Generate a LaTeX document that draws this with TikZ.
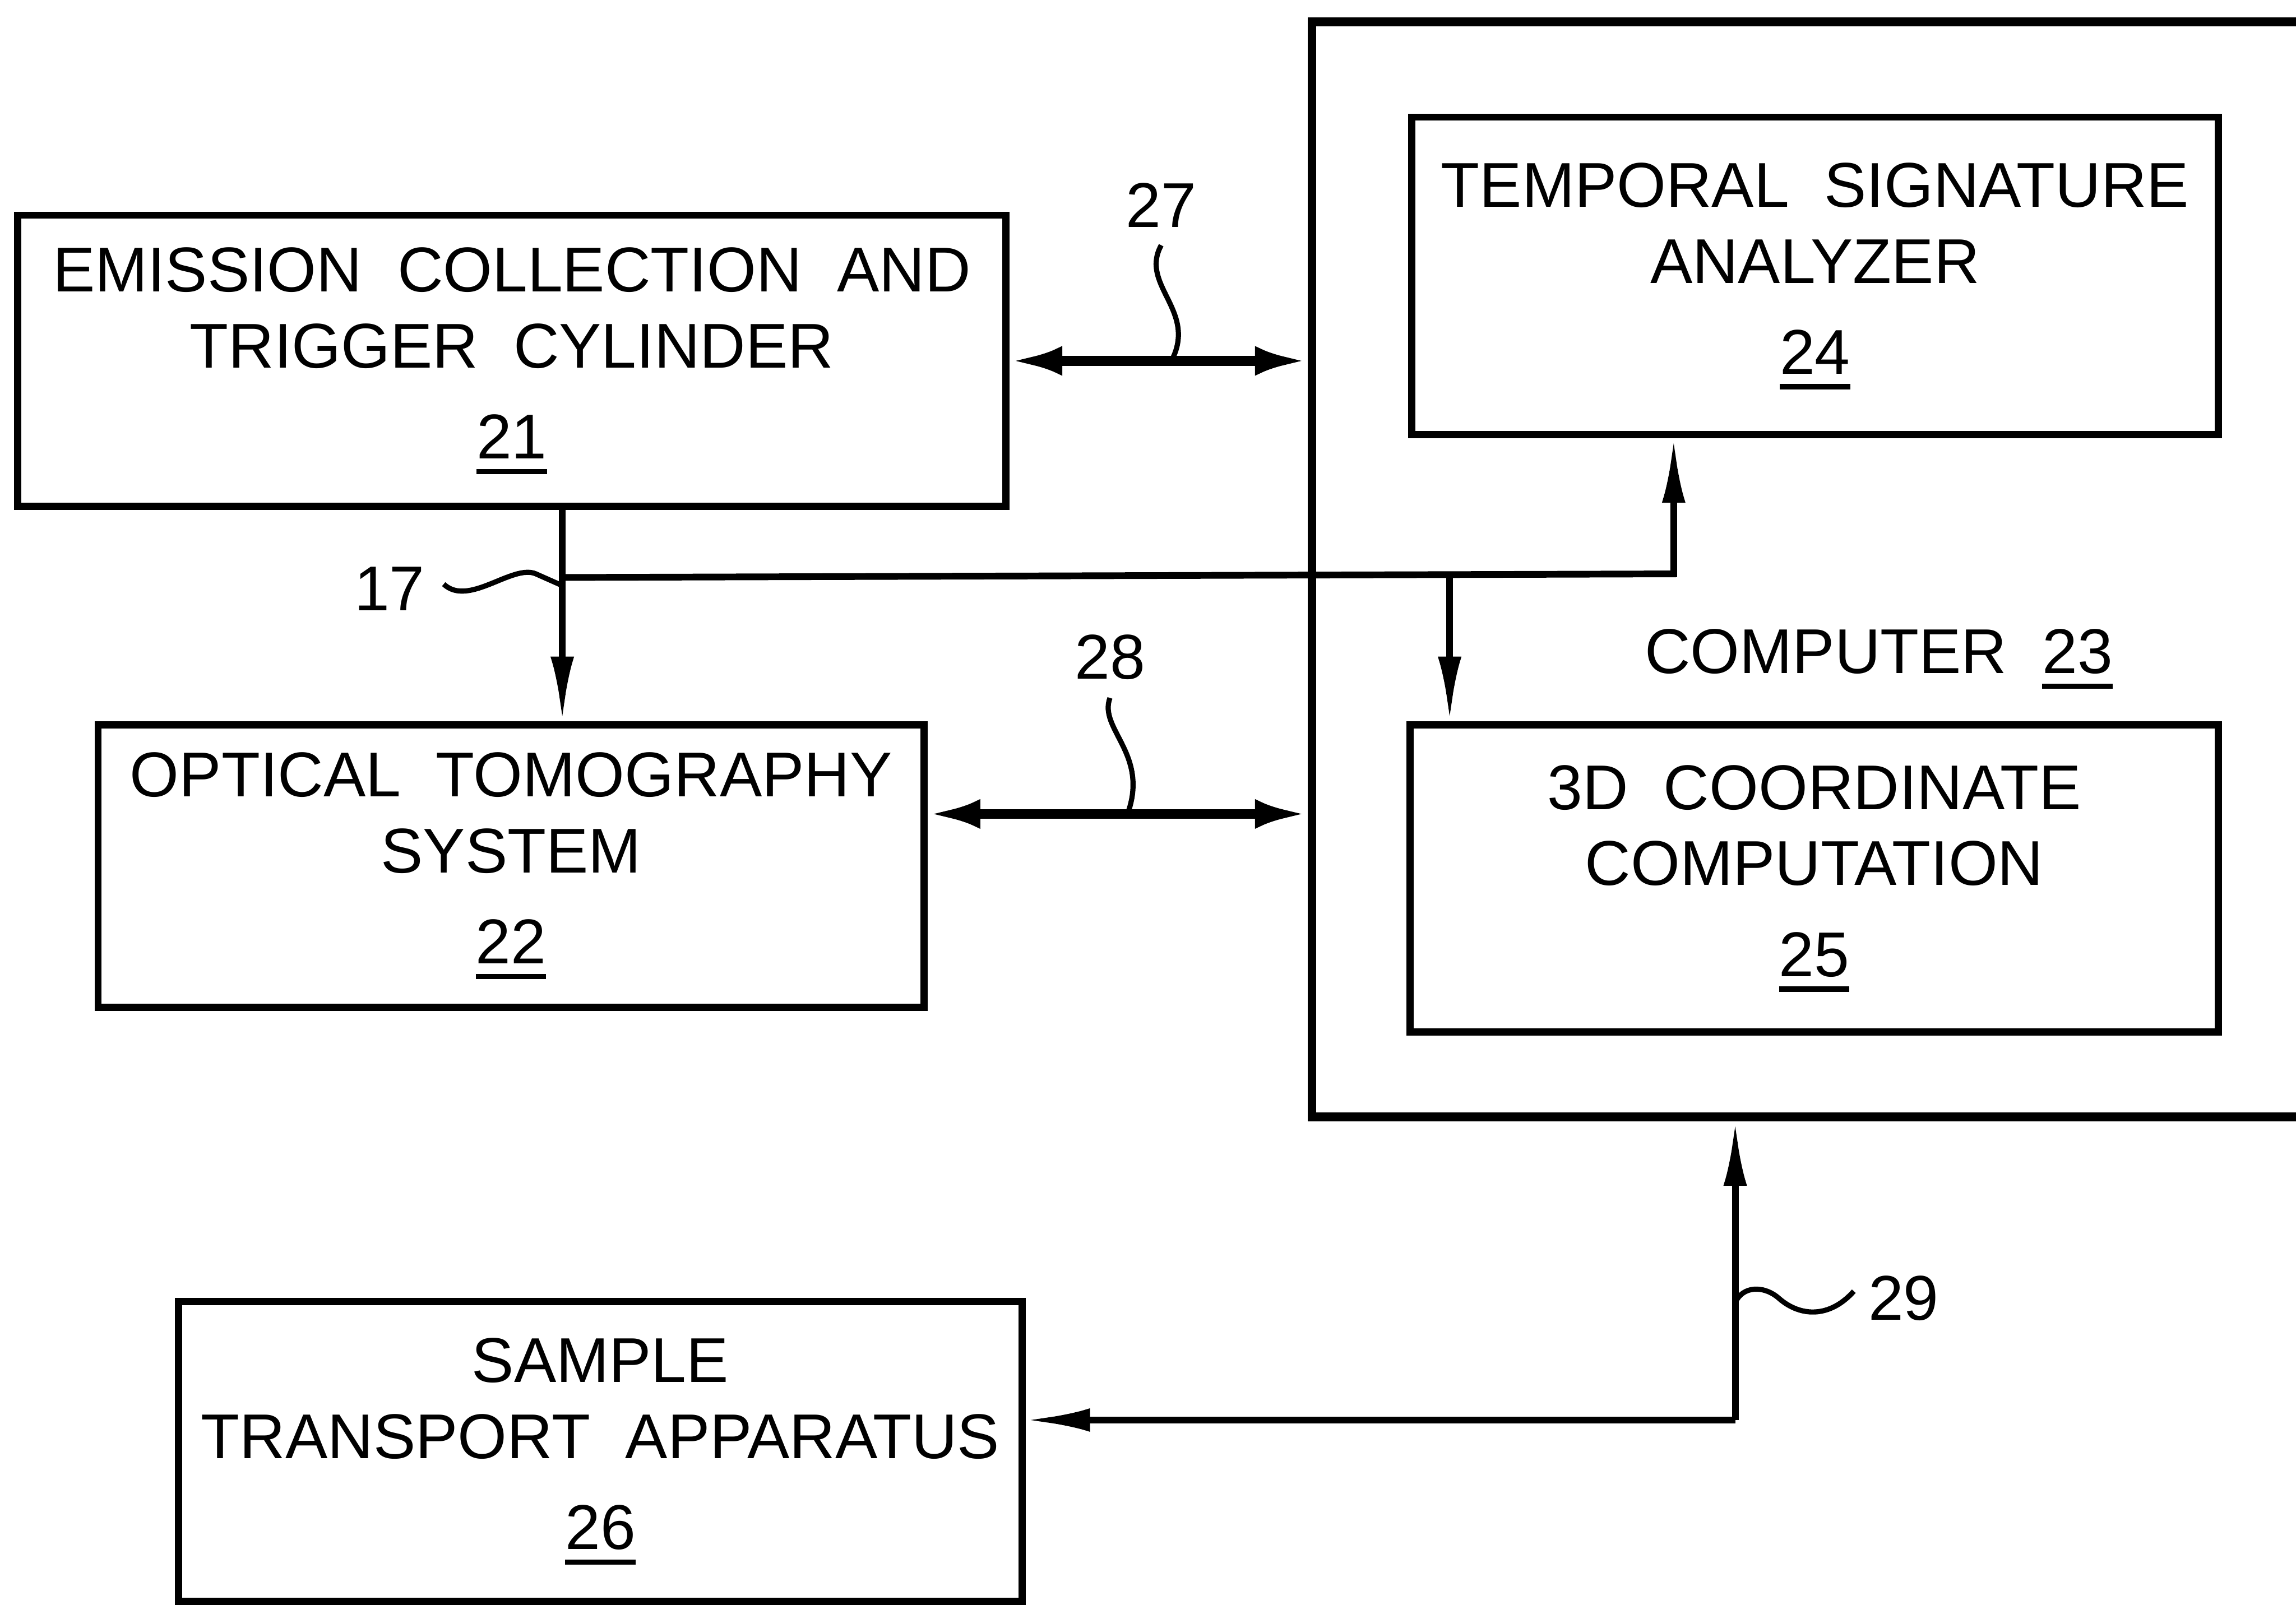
\documentclass[tikz,border=0pt]{standalone}
\usepackage{fontspec}
\setmainfont{Liberation Sans}
\usetikzlibrary{arrows.meta}
\newcommand{\boxfont}{\fontsize{12.3}{14.8}\selectfont}
\newcommand{\partnum}[1]{\setbox0=\hbox{#1}\leavevmode\rlap{\raisebox{-3pt}{\rule{\wd0}{1pt}}}\box0}
\tikzstyle{block} = [
    rectangle,
    draw=black,
    line width=1.4pt,
    inner sep=2pt,
    align=center,
    font=\boxfont
]
\tikzstyle{tag} = [font=\boxfont]
\tikzstyle{arrow} = [line width=1.3pt,-{Latex[length=0.44cm,width=0.16cm]}]
\tikzstyle{dblarrow} = [line width=1.9pt,{Latex[length=0.36cm,width=0.2cm]}-{Latex[length=0.36cm,width=0.2cm]}]
\tikzstyle{leader} = [line width=1pt]

\begin{document}
\begin{tikzpicture}

\useasboundingbox (0,0) rectangle (15.68,-10.96);

\node (comp) [block, line width=1.7pt, minimum width=7.54cm, minimum height=7.48cm] at (12.73,-3.89) {};

\node (emis) [block, minimum width=6.75cm, minimum height=1.99cm] at (3.495,-2.465)
{EMISSION~~COLLECTION~~AND\\TRIGGER~~CYLINDER\\[0.1cm]\partnum{21}};

\node (optic) [block, minimum width=5.64cm, minimum height=1.93cm] at (3.49,-5.915)
{OPTICAL~~TOMOGRAPHY\\SYSTEM\\[0.1cm]\partnum{22}};

\node (tsa) [block, minimum width=5.51cm, minimum height=2.17cm] at (12.395,-1.885)
{TEMPORAL~~SIGNATURE\\ANALYZER\\[0.1cm]\partnum{24}};

\node (coord) [block, minimum width=5.52cm, minimum height=2.10cm] at (12.39,-6.00)
{3D~~COORDINATE\\COMPUTATION\\[0.1cm]\partnum{25}};

\node (sample) [block, minimum width=5.76cm, minimum height=2.05cm] at (4.10,-9.915)
{SAMPLE\\TRANSPORT~~APPARATUS\\[0.1cm]\partnum{26}};

\node (complabel) [tag] at (12.83,-4.50) {COMPUTER~~\partnum{23}};

\node (n27) [tag] at (7.93,-1.40) {27};
\node (n28) [tag] at (7.58,-4.49) {28};
\node (n17) [tag] at (2.66,-4.02) {17};
\node (n29) [tag] at (13.00,-8.87) {29};

\coordinate (ot) at ([yshift=3.55mm]optic.east);
\coordinate (tap) at ([xshift=3.45mm]emis.south);
\coordinate (j17) at ([yshift=-4.6mm]tap);
\coordinate (up) at (11.43,-3.92);
\coordinate (dn) at (9.90,-3.92);
\coordinate (bend) at (11.85,-9.70);
\coordinate (j27) at (8.00,-2.465);
\coordinate (j28) at (7.70,-5.56);
\coordinate (j29) at (11.85,-8.90);
\coordinate (e17) at (3.03,-3.99);
\coordinate (e29) at (12.66,-8.82);

\draw [dblarrow] (emis.east) -- (emis.east -| comp.west);
\draw [dblarrow] (ot) -- (ot -| comp.west);

\draw [arrow] (tap) -- (tap |- optic.north);
\draw [arrow] (j17) -- (up) -- (up |- tsa.south);
\draw [arrow] (dn) -- (dn |- coord.north);

\draw [arrow] (bend) -- (bend -| sample.east);
\draw [arrow] (bend) -- (bend |- comp.south);

\draw [leader] (n27.south) .. controls (7.78,-1.95) and (8.18,-2.12) .. (j27);
\draw [leader] (n28.south) .. controls (7.50,-4.98) and (7.85,-5.15) .. (j28);
\draw [leader] (e17) .. controls (3.20,-4.15) and (3.50,-3.85) .. (3.66,-3.92) .. controls (3.75,-3.96) .. (3.84,-4.00);
\draw [leader] (j29) .. controls (11.90,-8.78) and (12.05,-8.78) .. (12.15,-8.87) .. controls (12.30,-9.00) and (12.50,-9.00) .. (e29);

\end{tikzpicture}
\end{document}
